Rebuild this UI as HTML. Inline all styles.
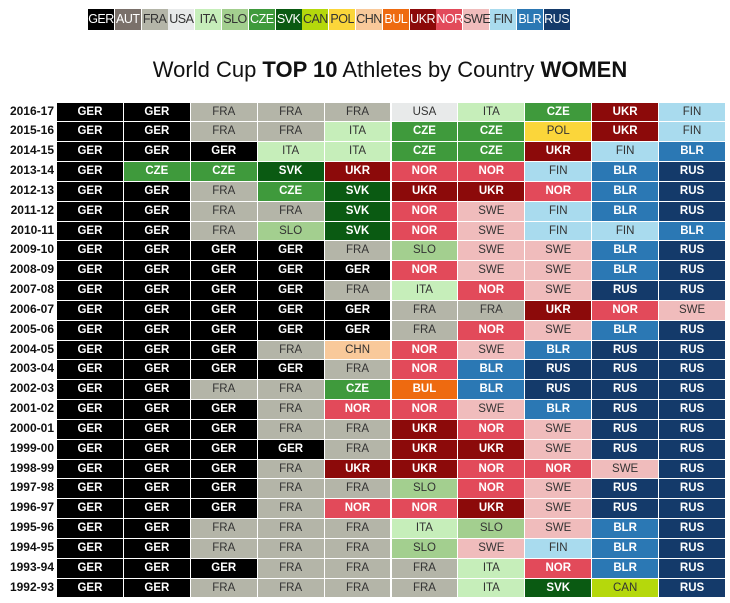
<!DOCTYPE html>
<html><head><meta charset="utf-8"><style>
body{margin:0;width:730px;height:603px;background:#fff;font-family:"Liberation Sans",Arial,sans-serif;position:relative;overflow:hidden}
.lg{position:absolute;top:9px;height:21px;line-height:21px;text-align:center;font-size:12.5px;letter-spacing:-0.5px}
.title{position:absolute;top:57px;left:0;width:780px;text-align:center;font-size:22px;color:#111}
.rl{position:absolute;left:0;width:54px;text-align:right;font-size:12px;font-weight:bold;color:#111}
.c{position:absolute;text-align:center;font-size:11.5px;box-sizing:border-box;border:1px solid #fff}
</style></head><body>
<div id="legend"></div>
<div class="title">World Cup <b>TOP 10</b> Athletes by Country <b>WOMEN</b></div>
<div id="grid"></div>
<script>
const countries=["GER","AUT","FRA","USA","ITA","SLO","CZE","SVK","CAN","POL","CHN","BUL","UKR","NOR","SWE","FIN","BLR","RUS"];
const colors=["#000000","#7a706a","#b4b5a8","#e8eaea","#c6eeba","#a3cf8f","#3f9a3c","#0a5a12","#b5d80c","#fbd63a","#f9c99a","#ee6a10","#8c0a0a","#e24a5a","#f0bcbc","#a9dbee","#2b78b4","#143a6a"];
const lightText=["GER","AUT","CZE","SVK","BUL","UKR","NOR","BLR","RUS"];
const seasons=["2016-17","2015-16","2014-15","2013-14","2012-13","2011-12","2010-11","2009-10","2008-09","2007-08","2006-07","2005-06","2004-05","2003-04","2002-03","2001-02","2000-01","1999-00","1998-99","1997-98","1996-97","1995-96","1994-95","1993-94","1992-93"];
const rows=[
"GER GER FRA FRA FRA USA ITA CZE UKR FIN",
"GER GER FRA FRA ITA CZE CZE POL UKR FIN",
"GER GER GER ITA ITA CZE CZE UKR FIN BLR",
"GER CZE CZE SVK UKR NOR NOR FIN BLR RUS",
"GER GER FRA CZE SVK UKR UKR NOR BLR RUS",
"GER GER FRA FRA SVK NOR SWE FIN BLR RUS",
"GER GER FRA SLO SVK NOR SWE FIN FIN BLR",
"GER GER GER GER FRA SLO SWE SWE BLR RUS",
"GER GER GER GER GER NOR SWE SWE BLR RUS",
"GER GER GER GER FRA ITA NOR SWE RUS RUS",
"GER GER GER GER GER FRA FRA UKR NOR SWE",
"GER GER GER GER GER FRA NOR SWE BLR RUS",
"GER GER GER FRA CHN NOR SWE BLR RUS RUS",
"GER GER GER GER FRA NOR BLR RUS RUS RUS",
"GER GER FRA FRA CZE BUL BLR RUS RUS RUS",
"GER GER GER FRA NOR NOR SWE BLR RUS RUS",
"GER GER GER FRA FRA UKR NOR SWE RUS RUS",
"GER GER GER GER FRA UKR UKR SWE RUS RUS",
"GER GER GER FRA UKR UKR NOR NOR SWE RUS",
"GER GER GER FRA FRA SLO NOR SWE RUS RUS",
"GER GER GER FRA NOR NOR UKR SWE RUS RUS",
"GER GER FRA FRA FRA ITA SLO SWE BLR RUS",
"GER GER FRA FRA FRA SLO SWE FIN BLR RUS",
"GER GER GER FRA FRA FRA ITA NOR BLR RUS",
"GER GER FRA FRA FRA FRA ITA SVK CAN RUS"];
const col=c=>colors[countries.indexOf(c)];
const tc=c=>lightText.includes(c)?"#fff":"#333";
const lg=document.getElementById('legend');
countries.forEach((c,i)=>{
  const d=document.createElement('div');d.className='lg';
  
  
  d.style.left=(88+i*26.8)+'px';d.style.width='26px';
  d.style.background=col(c);d.style.color=tc(c);d.textContent=c;lg.appendChild(d);
});
const g=document.getElementById('grid');
const x0=56,cw=66.9,y0=101.5,rh=19.84;
seasons.forEach((s,r)=>{
  const l=document.createElement('div');l.className='rl';
  
  
  l.style.top=(y0+r*rh)+'px';l.style.height=rh+'px';l.style.lineHeight=rh+'px';
  l.textContent=s;g.appendChild(l);
  rows[r].split(' ').forEach((c,k)=>{
    const d=document.createElement('div');d.className='c';
    
    
    d.style.left=(x0+k*cw)+'px';d.style.top=(y0+r*rh)+'px';
    d.style.width=(cw+1)+'px';d.style.height=(rh+1)+'px';d.style.lineHeight=(rh-1)+'px';
    d.style.background=col(c);d.style.color=tc(c);
    if(lightText.includes(c))d.style.fontWeight='bold';
    d.textContent=c;g.appendChild(d);
  });
});
</script>
</body></html>
